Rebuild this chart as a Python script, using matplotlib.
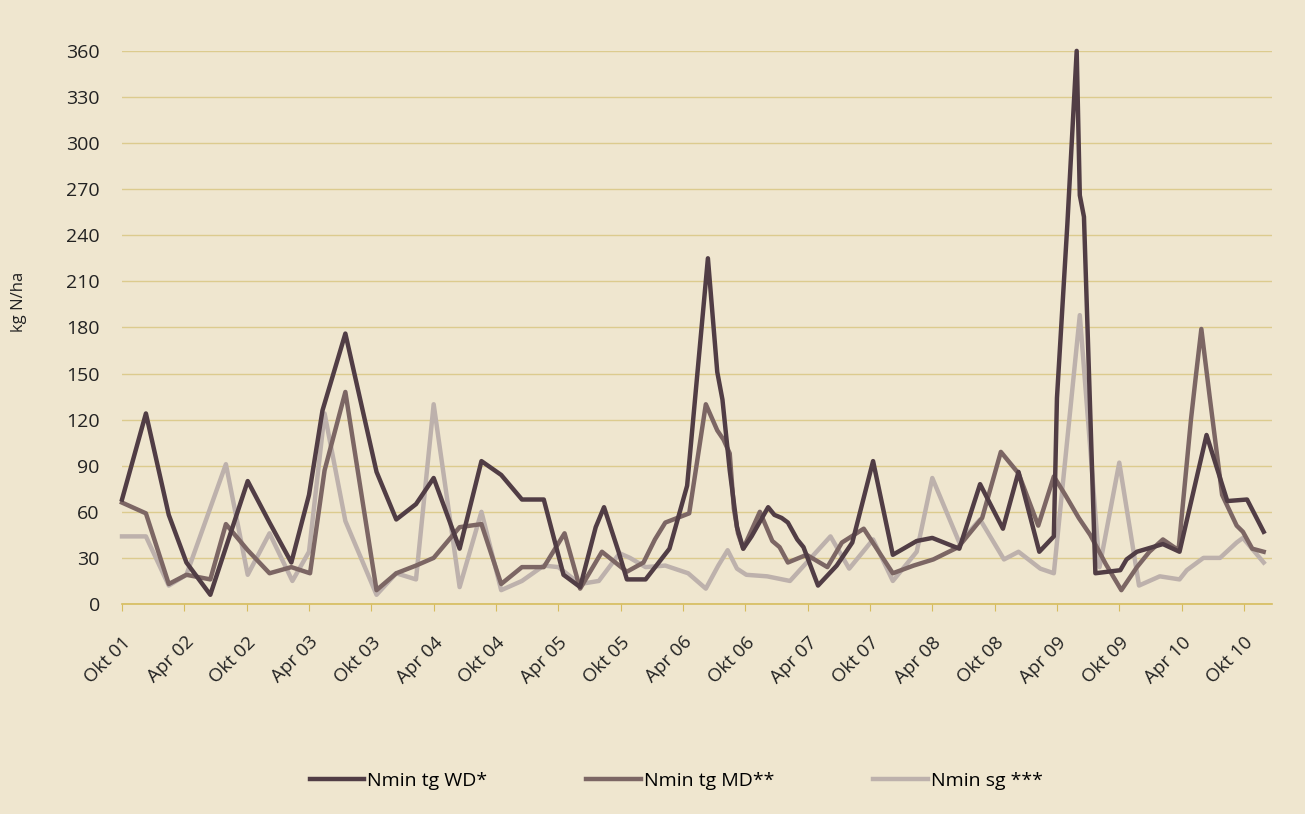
import numpy as np
import matplotlib
matplotlib.use("Agg")
import matplotlib.pyplot as plt
import matplotlib.transforms as mtransforms

# x = months after October 2001
wd_x = [0.0, 2.3, 4.5, 6.2, 8.5, 12.1, 14.2, 16.3, 18.0, 19.3, 21.5, 24.5, 26.4, 28.3,
        30.0, 32.5, 34.6, 36.5, 38.5, 40.6, 42.5, 44.1, 45.6, 46.4, 47.8, 48.6, 50.4,
        52.7, 54.4, 56.4, 57.3, 57.8, 58.5, 59.2, 59.8, 60.6, 62.2, 62.8, 63.5, 64.1,
        65.0, 65.6, 67.0, 68.8, 70.3, 72.3, 74.2, 76.5, 78.0, 80.6, 82.6, 84.8, 86.3,
        88.3, 89.7, 90.0, 91.0, 91.9, 92.2, 92.6, 93.7, 96.1, 96.7, 97.7, 100.2, 101.8,
        104.4, 106.4, 108.3, 109.9]
wd_y = [68, 124, 58, 27, 6, 80, 53, 27, 71, 126, 176, 86, 55, 65,
        82, 36, 93, 84, 68, 68, 19, 11, 50, 63, 34, 16, 16,
        36, 77, 225, 151, 133, 87, 50, 36, 44, 63, 58, 56, 53,
        42, 37, 12, 25, 40, 93, 32, 41, 43, 36, 78, 49, 86,
        34, 44, 134, 247, 360, 266, 252, 20, 22, 29, 34, 39, 34,
        110, 67, 68, 47]

md_x = [0.0, 2.3, 4.5, 6.2, 8.5, 10.0, 12.1, 14.2, 16.3, 18.1, 19.5, 21.5, 24.5, 26.4,
        28.3, 30.0, 32.5, 34.6, 36.5, 38.5, 40.6, 42.6, 44.1, 46.2, 48.6, 50.2, 51.3,
        52.3, 54.6, 56.2, 57.3, 57.9, 58.5, 58.9, 59.3, 59.8, 61.4, 62.6, 63.3, 64.1,
        65.9, 67.9, 69.3, 71.4, 74.2, 76.2, 78.1, 80.5, 82.8, 84.6, 86.3, 88.2, 89.7,
        90.8, 92.1, 93.2, 94.7, 96.2, 97.7, 98.9, 100.2, 101.7, 102.9, 103.4, 103.9,
        104.7, 105.9, 107.3, 107.9, 108.8, 109.9]
md_y = [66, 59, 13, 19, 16, 52, 35, 20, 24, 20, 87, 138, 9, 20,
        25, 30, 50, 52, 13, 24, 24, 46, 10, 34, 21, 27, 42,
        53, 59, 130, 113, 107, 98, 62, 46, 36, 60, 41, 37, 27,
        32, 24, 40, 49, 20, 25, 29, 37, 56, 99, 85, 51, 83,
        71, 56, 45, 26, 9, 24, 34, 42, 35, 120, 150, 179,
        135, 71, 51, 47, 36, 34]

sg_x = [0.0, 2.3, 4.5, 6.2, 10.0, 12.1, 14.2, 16.4, 18.0, 19.5, 21.5, 24.5, 26.4, 28.3,
        30.0, 32.5, 34.6, 36.5, 38.5, 40.6, 42.0, 44.1, 45.9, 47.9, 48.9, 50.4, 52.3,
        54.5, 56.2, 57.4, 58.3, 59.2, 60.1, 62.1, 64.3, 68.2, 70.0, 72.3, 74.2, 76.5,
        78.0, 80.6, 82.6, 84.9, 86.3, 88.4, 89.7, 92.2, 94.1, 96.0, 97.9, 99.9, 101.8,
        102.5, 104.1, 105.7, 107.3, 107.9, 109.9]
sg_y = [44, 44, 12, 19, 91, 19, 46, 15, 34, 124, 54, 6, 20, 16,
        130, 11, 60, 9, 15, 25, 24, 13, 15, 33, 30, 24, 25,
        20, 10, 25, 35, 23, 19, 18, 15, 44, 23, 42, 15, 34,
        82, 40, 55, 29, 34, 23, 20, 188, 24, 92, 12, 18, 16,
        22, 30, 30, 40, 43, 27]

tick_labels = ["Okt 01", "Apr 02", "Okt 02", "Apr 03", "Okt 03", "Apr 04", "Okt 04",
               "Apr 05", "Okt 05", "Apr 06", "Okt 06", "Apr 07", "Okt 07", "Apr 08",
               "Okt 08", "Apr 09", "Okt 09", "Apr 10", "Okt 10"]

bg = "#EFE6CF"
plt.rcParams["font.family"] = ["Open Sans", "DejaVu Sans"]

fig = plt.figure(figsize=(13.05, 8.14), dpi=100, facecolor=bg)
ax = fig.add_axes([0.0935, 0.258, 0.8812, 0.6795], facecolor=bg)

ax.plot(wd_x, wd_y, color="#513D45", lw=3.2, label="Nmin tg WD*", clip_on=False, zorder=4)
ax.plot(md_x, md_y, color="#7C6664", lw=3.2, label="Nmin tg MD**", clip_on=False, zorder=3)
ax.plot(sg_x, sg_y, color="#BDB1AC", lw=3.2, label="Nmin sg ***", clip_on=False, zorder=2)

ax.set_xlim(0, 110.7)
ax.set_ylim(0, 360)
ax.set_yticks(np.arange(0, 361, 30))
ax.set_xticks(np.arange(0, 109, 6))
ax.set_xticklabels(tick_labels, rotation=45, ha="right", rotation_mode="anchor")

# nudge the rotated labels a bit to the right, like in the original
shift = mtransforms.ScaledTranslation(5 / 100, 0, fig.dpi_scale_trans)
for lbl in ax.get_xticklabels():
    lbl.set_transform(lbl.get_transform() + shift)

ax.grid(axis="y", color="#DCCB8E", lw=1)
ax.set_axisbelow(True)
for s in ["top", "right", "left"]:
    ax.spines[s].set_visible(False)
ax.spines["bottom"].set_color("#D6BC5E")
ax.spines["bottom"].set_linewidth(1.2)
ax.tick_params(axis="y", length=0, labelsize=14, pad=16, colors="#222222")
ax.tick_params(axis="x", length=5, color="#D6BC5E", labelsize=13.5, pad=16, colors="#222222")
ax.set_ylabel("kg N/ha", fontsize=12, color="#222222")
ax.yaxis.set_label_coords(-0.083, 0.546)

fig.legend(loc="lower center", bbox_to_anchor=(0.518, 0.008), ncol=3, frameon=False,
           fontsize=14, handlelength=2.8, handletextpad=0.15, columnspacing=5.1)

fig.savefig("out.png", dpi=100, facecolor=bg)
